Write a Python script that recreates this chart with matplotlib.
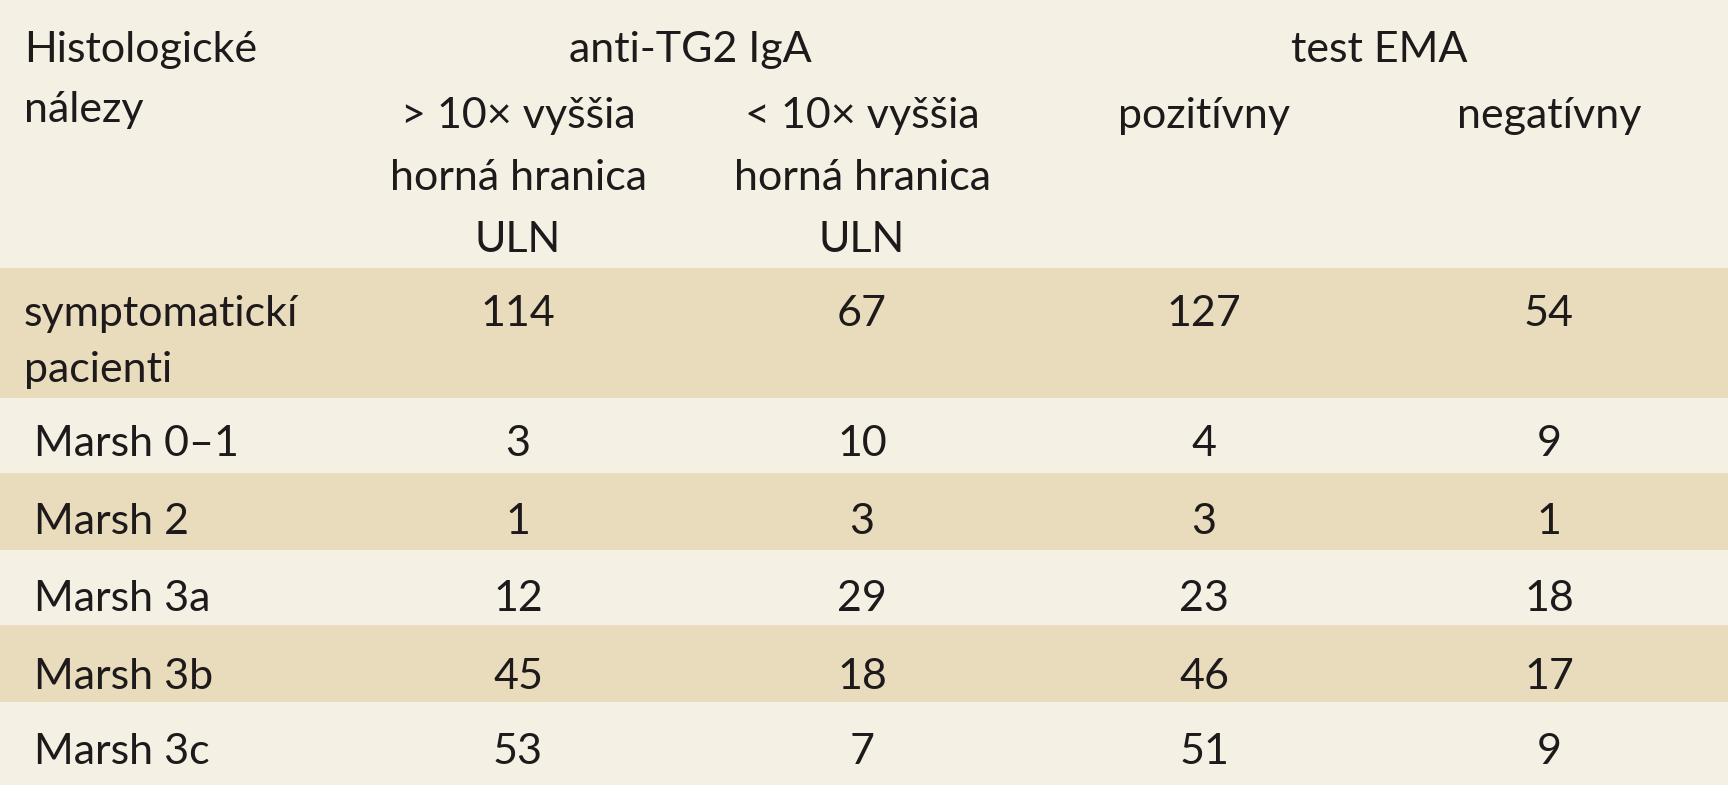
import matplotlib
matplotlib.use('Agg')
import matplotlib.pyplot as plt
from matplotlib.patches import Rectangle

# data
row_labels = ['symptomatickí\npacienti', 'Marsh 0–1', 'Marsh 2', 'Marsh 3a', 'Marsh 3b', 'Marsh 3c']
tg2_above = [114, 3, 1, 12, 45, 53]
tg2_below = [67, 10, 3, 29, 18, 7]
ema_pos = [127, 4, 3, 23, 46, 51]
ema_neg = [54, 9, 1, 18, 17, 9]

group_labels = ['anti-TG2 IgA', 'test EMA']
sub_labels = ['> 10× vyššia\nhorná hranica\nULN', '< 10× vyššia\nhorná hranica\nULN',
              'pozitívny', 'negatívny']

LIGHT = '#f5f0e4'
SHADE = '#e8dcbc'
TXT = '#1e1a1b'
FS = 31

W, H = 1728, 800
fig = plt.figure(figsize=(W / 100, H / 100), dpi=100, facecolor='white')
ax = fig.add_axes([0, 0, 1, 1])
ax.set_xlim(0, W)
ax.set_ylim(H, 0)
ax.axis('off')

plt.rcParams['font.family'] = ['Lato', 'DejaVu Sans']

# row bands (top, bottom)
bands = [(0, 268), (268, 398), (398, 473), (473, 550), (550, 625), (625, 702), (702, 785)]
colors = [LIGHT, SHADE, LIGHT, SHADE, LIGHT, SHADE, LIGHT]
for (t, b), c in zip(bands, colors):
    ax.add_patch(Rectangle((0, t), W, b - t, facecolor=c, edgecolor='none'))

col_x = [518, 862, 1204, 1549]
kw = dict(color=TXT, fontsize=FS, va='center')

# header
ax.text(24, 50, 'Histologické', ha='left', **kw)
ax.text(24, 110, 'nálezy', ha='left', **kw)
ax.text(690, 50, group_labels[0], ha='center', **kw)
ax.text(1379, 50, group_labels[1], ha='center', **kw)
for x, lab in zip(col_x, sub_labels):
    for i, line in enumerate(lab.split('\n')):
        ax.text(x, 116 + i * 62, line, ha='center', **kw)

# body
row_y = [314, 444, 522, 599, 677, 752]
cols = [tg2_above, tg2_below, ema_pos, ema_neg]
for r, (lab, y) in enumerate(zip(row_labels, row_y)):
    lines = lab.split('\n')
    for i, line in enumerate(lines):
        ax.text(24 if r == 0 else 34, y + i * 56, line, ha='left', **kw)
    for x, vals in zip(col_x, cols):
        ax.text(x, y, str(vals[r]), ha='center', **kw)

fig.savefig('out.png', dpi=100, facecolor='white')
